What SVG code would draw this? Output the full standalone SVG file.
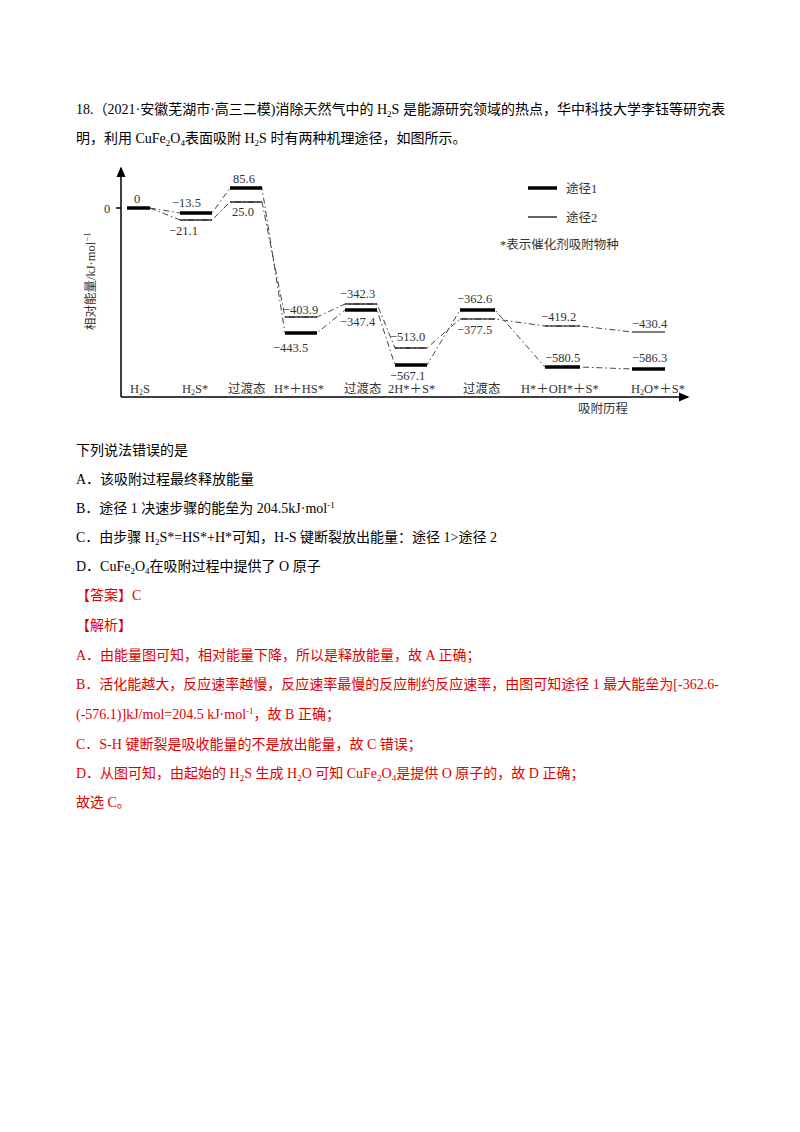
<svg xmlns="http://www.w3.org/2000/svg" width="800" height="1132" viewBox="0 0 800 1132">
<style>
text{font-family:"Liberation Serif","Noto Sans CJK SC",serif;font-size:14px;fill:#000}
.r{fill:#e00000}
.c{font-size:12.5px;fill:#333}
.v{font-size:12.5px;fill:#333}
.t1{stroke:#000;stroke-width:3.5}
.t2{stroke:#000;stroke-width:1.2}
.d{fill:none;stroke:#444;stroke-width:1;stroke-dasharray:6 3 1.5 3}
</style>
<defs><marker id="ar" markerWidth="8" markerHeight="8" refX="6" refY="4" orient="auto"><path d="M0,1 L7,4 L0,7 z" fill="#000"/></marker></defs>
<text x="76" y="114">18.（2021·安徽芜湖市·高三二模)消除天然气中的 H<tspan font-size="9" dy="3">2</tspan><tspan dy="-3">S 是能源研究领域的热点，华中科技大学李钰等研究表</tspan></text>
<text x="76" y="143">明，利用 CuFe<tspan font-size="9" dy="3">2</tspan><tspan dy="-3">O</tspan><tspan font-size="9" dy="3">4</tspan><tspan dy="-3">表面吸附 H</tspan><tspan font-size="9" dy="3">2</tspan><tspan dy="-3">S 时有两种机理途径，如图所示。</tspan></text>
<g id="axes" stroke="#000" stroke-width="1.5" fill="none">
<line x1="121" y1="397" x2="121" y2="168" marker-end="url(#ar)"/>
<line x1="121" y1="397" x2="688" y2="397" marker-end="url(#ar)"/>
<line x1="116" y1="208" x2="121" y2="208"/>
</g>
<text x="104" y="213" class="v">0</text>
<text transform="translate(95,330) rotate(-90)" class="c">相对能量/kJ·mol<tspan font-size="9" dy="-5">−1</tspan></text>
<g id="connectors">
<polyline class="d" points="150,208 180,213 212,213 230,188 262,188 285,333 317,333 345,310 377,310 395,365 427,365 460,310 495,310 545,367 580,367 632,369"/>
<polyline class="d" points="150,208 180,220 212,220 230,202 262,202 285,317 317,317 345,304 377,304 395,348 427,348 460,319 495,319 545,326 580,326 632,332"/>
</g>
<g id="levels">
<line class="t1" x1="127" y1="208" x2="150" y2="208"/>
<line class="t1" x1="180" y1="213" x2="212" y2="213"/><line class="t2" x1="180" y1="220" x2="212" y2="220"/>
<line class="t1" x1="230" y1="188" x2="262" y2="188"/><line class="t2" x1="230" y1="202" x2="262" y2="202"/>
<line class="t2" x1="285" y1="317" x2="317" y2="317"/><line class="t1" x1="285" y1="333" x2="317" y2="333"/>
<line class="t2" x1="345" y1="304" x2="377" y2="304"/><line class="t1" x1="345" y1="310" x2="377" y2="310"/>
<line class="t2" x1="395" y1="348" x2="427" y2="348"/><line class="t1" x1="395" y1="365" x2="427" y2="365"/>
<line class="t1" x1="460" y1="310" x2="495" y2="310"/><line class="t2" x1="460" y1="319" x2="495" y2="319"/>
<line class="t2" x1="545" y1="326" x2="580" y2="326"/><line class="t1" x1="545" y1="367" x2="580" y2="367"/>
<line class="t2" x1="632" y1="332" x2="665" y2="332"/><line class="t1" x1="632" y1="369" x2="665" y2="369"/>
</g>
<g id="values" class="v">
<text x="134" y="203" class="v">0</text>
<text x="172" y="207" class="v">−13.5</text><text x="169" y="235" class="v">−21.1</text>
<text x="233" y="183" class="v">85.6</text><text x="232" y="216" class="v">25.0</text>
<text x="283" y="314" class="v">−403.9</text><text x="273" y="352" class="v">−443.5</text>
<text x="340" y="298" class="v">−342.3</text><text x="340" y="326" class="v">−347.4</text>
<text x="390" y="341" class="v">−513.0</text><text x="390" y="380" class="v">−567.1</text>
<text x="457" y="303" class="v">−362.6</text><text x="457" y="334" class="v">−377.5</text>
<text x="541" y="321" class="v">−419.2</text><text x="545" y="362" class="v">−580.5</text>
<text x="632" y="328" class="v">−430.4</text><text x="632" y="362" class="v">−586.3</text>
</g>
<g id="categories">
<text x="130" y="393" class="c">H<tspan font-size="8" dy="2">2</tspan><tspan dy="-2">S</tspan></text>
<text x="182" y="393" class="c">H<tspan font-size="8" dy="2">2</tspan><tspan dy="-2">S*</tspan></text>
<text x="228" y="393" class="c" font-size="11">过渡态</text>
<text x="274" y="393" class="c">H*＋HS*</text>
<text x="344" y="393" class="c" font-size="11">过渡态</text>
<text x="388" y="393" class="c">2H*＋S*</text>
<text x="463" y="393" class="c" font-size="11">过渡态</text>
<text x="521" y="393" class="c">H*＋OH*＋S*</text>
<text x="631" y="393" class="c">H<tspan font-size="8" dy="2">2</tspan><tspan dy="-2">O*＋S*</tspan></text>
<text x="578" y="413" class="c">吸附历程</text>
</g>
<g id="legend">
<line class="t1" x1="528" y1="188" x2="557" y2="188"/><text x="566" y="193" class="c">途径1</text>
<line class="t2" x1="528" y1="217" x2="557" y2="217"/><text x="566" y="222" class="c">途径2</text>
<text x="500" y="249" class="c">*表示催化剂吸附物种</text>
</g>
<text x="76" y="455">下列说法错误的是</text>
<text x="76" y="484">A．该吸附过程最终释放能量</text>
<text x="76" y="513">B．途径 1 决速步骤的能垒为 204.5kJ·mol<tspan font-size="9" dy="-5">-1</tspan></text>
<text x="76" y="542">C．由步骤 H<tspan font-size="9" dy="3">2</tspan><tspan dy="-3">S*=HS*+H*可知，H-S 键断裂放出能量：途径 1&gt;途径 2</tspan></text>
<text x="76" y="571">D．CuFe<tspan font-size="9" dy="3">2</tspan><tspan dy="-3">O</tspan><tspan font-size="9" dy="3">4</tspan><tspan dy="-3">在吸附过程中提供了 O 原子</tspan></text>
<text x="76" y="600" class="r">【答案】C</text>
<text x="76" y="630" class="r">【解析】</text>
<text x="76" y="660" class="r">A．由能量图可知，相对能量下降，所以是释放能量，故 A 正确；</text>
<text x="76" y="689" class="r">B．活化能越大，反应速率越慢，反应速率最慢的反应制约反应速率，由图可知途径 1 最大能垒为[-362.6-</text>
<text x="76" y="719" class="r">(-576.1)]kJ/mol=204.5 kJ·mol<tspan font-size="9" dy="-5">-1</tspan><tspan dy="5">，故 B 正确；</tspan></text>
<text x="76" y="749" class="r">C．S-H 键断裂是吸收能量的不是放出能量，故 C 错误；</text>
<text x="76" y="778" class="r">D．从图可知，由起始的 H<tspan font-size="9" dy="3">2</tspan><tspan dy="-3">S 生成 H</tspan><tspan font-size="9" dy="3">2</tspan><tspan dy="-3">O 可知 CuFe</tspan><tspan font-size="9" dy="3">2</tspan><tspan dy="-3">O</tspan><tspan font-size="9" dy="3">4</tspan><tspan dy="-3">是提供 O 原子的，故 D 正确；</tspan></text>
<text x="76" y="807" class="r">故选 C。</text>
</svg>
